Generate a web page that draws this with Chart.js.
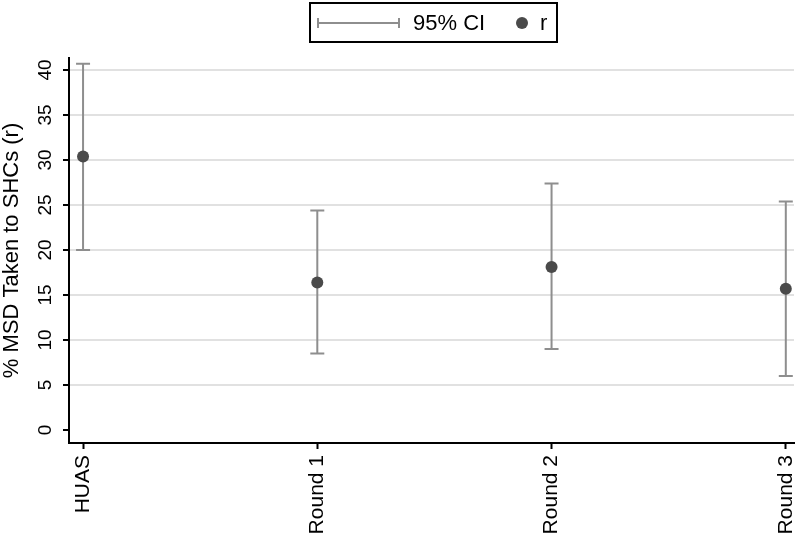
<!DOCTYPE html>
<html>
<head>
<meta charset="utf-8">
<script src="https://cdn.jsdelivr.net/npm/chart.js@4/dist/chart.umd.min.js"></script>
<style>
html,body{margin:0;padding:0;background:#fff;}
#wrap{width:800px;height:540px;position:relative;}
</style>
</head>
<body>
<div id="wrap"><canvas id="c" width="800" height="540"></canvas></div>
<script>
const categories = ["HUAS", "Round 1", "Round 2", "Round 3"];
const rValues = [30.4, 16.4, 18.1, 15.7];
const ciLower = [20.0, 8.5, 9.0, 6.0];
const ciUpper = [40.7, 24.4, 27.4, 25.4];
const yTicks = [0, 5, 10, 15, 20, 25, 30, 35, 40];
const yTitle = "% MSD Taken to SHCs (r)";
const legendCI = "95% CI";
const legendR = "r";

const FONT = "'Liberation Sans', Arial, Helvetica, sans-serif";
const barColor = "#8e8e8e";
const dotColor = "#4a4a4a";

const errorBars = {
  id: 'errorBars',
  beforeDatasetsDraw(chart) {
    const ctx = chart.ctx, xs = chart.scales.x, ys = chart.scales.y;
    ctx.save();
    ctx.strokeStyle = barColor;
    ctx.lineWidth = 2;
    categories.forEach((c, i) => {
      const x = xs.getPixelForValue(i);
      const yl = ys.getPixelForValue(ciLower[i]);
      const yu = ys.getPixelForValue(ciUpper[i]);
      ctx.beginPath();
      ctx.moveTo(x, yl); ctx.lineTo(x, yu);
      ctx.moveTo(x - 7, yl); ctx.lineTo(x + 7, yl);
      ctx.moveTo(x - 7, yu); ctx.lineTo(x + 7, yu);
      ctx.stroke();
    });
    ctx.restore();
  }
};

const legendBox = {
  id: 'legendBox',
  afterDraw(chart) {
    const ctx = chart.ctx;
    ctx.save();
    ctx.strokeStyle = '#000';
    ctx.lineWidth = 2;
    ctx.strokeRect(310, 3, 247, 39);
    const cy = 23;
    ctx.strokeStyle = barColor;
    ctx.lineWidth = 2;
    ctx.beginPath();
    ctx.moveTo(318, cy); ctx.lineTo(399, cy);
    ctx.moveTo(318, cy - 5); ctx.lineTo(318, cy + 5);
    ctx.moveTo(399, cy - 5); ctx.lineTo(399, cy + 5);
    ctx.stroke();
    ctx.fillStyle = '#000';
    ctx.font = "22px " + FONT;
    ctx.textBaseline = 'middle';
    ctx.textAlign = 'left';
    ctx.fillText(legendCI, 413, cy + 1);
    ctx.fillStyle = dotColor;
    ctx.beginPath();
    ctx.arc(522, cy, 6, 0, Math.PI * 2);
    ctx.fill();
    ctx.fillStyle = '#000';
    ctx.fillText(legendR, 540, cy + 1);
    ctx.restore();
  }
};

new Chart(document.getElementById('c'), {
  type: 'scatter',
  data: {
    datasets: [{
      label: legendR,
      data: rValues.map((v, i) => ({x: i, y: v})),
      pointRadius: 6,
      pointHoverRadius: 6,
      pointBackgroundColor: dotColor,
      pointBorderColor: dotColor,
      pointBorderWidth: 0,
      showLine: false
    }]
  },
  options: {
    responsive: false,
    animation: false,
    events: [],
    layout: { padding: { top: 58, right: 0, left: 0, bottom: 0 } },
    plugins: { legend: { display: false }, tooltip: { enabled: false } },
    scales: {
      x: {
        type: 'linear',
        min: -0.06,
        max: 3.035,
        afterBuildTicks(s) { s.ticks = categories.map((c, i) => ({value: i})); },
        afterFit(s) { s.height = 97; s.paddingLeft = 0; s.paddingRight = 0; },
        grid: { display: true, drawOnChartArea: false, drawTicks: true, tickLength: 6, tickColor: '#000', tickWidth: 2 },
        border: { display: true, color: '#000', width: 2 },
        ticks: {
          minRotation: 90, maxRotation: 90, autoSkip: false, padding: 6,
          color: '#000',
          font: { family: FONT, size: 21 },
          callback: (v) => categories[v] ?? ''
        }
      },
      y: {
        min: -1.44,
        max: 41.33,
        afterBuildTicks(s) { s.ticks = yTicks.map(v => ({value: v})); },
        afterFit(s) { s.width = 69; s.paddingTop = 0; s.paddingBottom = 0; },
        grid: {
          color: (c) => (c.tick && c.tick.value === 0) ? 'rgba(0,0,0,0)' : '#e1e1e1',
          lineWidth: 2,
          drawTicks: true, tickLength: 6, tickColor: '#000', tickWidth: 2
        },
        border: { display: true, color: '#000', width: 2 },
        title: {
          display: true, text: yTitle, color: '#000',
          font: { family: FONT, size: 22, lineHeight: 1 },
          padding: { top: 1, bottom: 0 }
        },
        ticks: {
          minRotation: 90, maxRotation: 90, crossAlign: 'center', padding: 7,
          color: '#000',
          font: { family: FONT, size: 19 }
        }
      }
    }
  },
  plugins: [errorBars, legendBox]
});
</script>
</body>
</html>
